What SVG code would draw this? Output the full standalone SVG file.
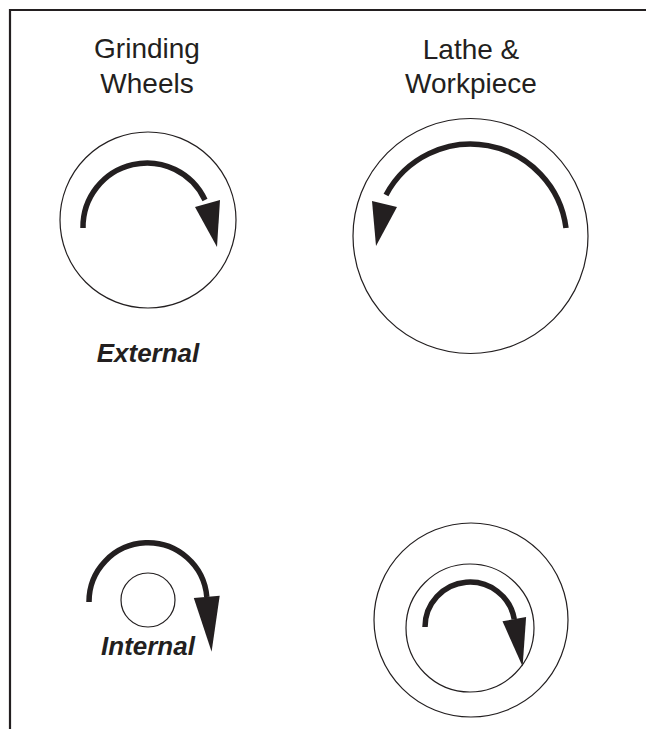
<svg xmlns="http://www.w3.org/2000/svg" width="646" height="729" viewBox="0 0 646 729">
<style>
.frame{fill:none;stroke:#231f20;stroke-width:2.2}
.ring{fill:none;stroke:#231f20;stroke-width:1.2}
.arc{fill:none;stroke:#231f20;stroke-width:5.5}
.head{fill:#231f20;stroke:none}
.hdr{font-family:"Liberation Sans",Arial,sans-serif;font-size:28px;fill:#231f20;text-anchor:middle}
.lbl{font-family:"Liberation Sans",Arial,sans-serif;font-size:26px;font-weight:bold;font-style:italic;fill:#231f20;text-anchor:middle}
</style>
<rect width="646" height="729" fill="#ffffff"/>
<path class="frame" d="M10,729 V10 H646"/>
<g id="headers">
<text class="hdr" x="147" y="58">Grinding</text>
<text class="hdr" x="147" y="93">Wheels</text>
<text class="hdr" x="471" y="59">Lathe &amp;</text>
<text class="hdr" x="471" y="93">Workpiece</text>
</g>
<g id="external-wheel">
<circle class="ring" cx="148" cy="220" r="88"/>
</g>
<g id="external-workpiece">
<circle class="ring" cx="470.5" cy="236" r="117.5"/>
</g>
<g id="internal-wheel">
<circle class="ring" cx="148" cy="600" r="27"/>
</g>
<g id="internal-workpiece">
<circle class="ring" cx="471" cy="620" r="97"/>
<circle class="ring" cx="470" cy="628" r="64"/>
</g>
<g id="connectors">
<path class="arc" d="M83,228 A64,64 0 0 1 205,200"/>
<polygon class="head" points="195,207 220,200 217,247"/>
<path class="arc" d="M566,228 A96,96 0 0 0 386,195"/>
<polygon class="head" points="372,201 397,207 376,246"/>
<path class="arc" d="M89,602 A59,59 0 0 1 206.8,596.9"/>
<polygon class="head" points="193.8,598 219.7,595.8 211.6,651.7"/>
<path class="arc" d="M425,627 A45,45 0 0 1 514.3,619.2"/>
<polygon class="head" points="502.5,621.3 526.1,617.1 522.6,666.5"/>
</g>
<g id="labels">
<text class="lbl" x="148" y="362">External</text>
<text class="lbl" x="148" y="655">Internal</text>
</g>
</svg>
